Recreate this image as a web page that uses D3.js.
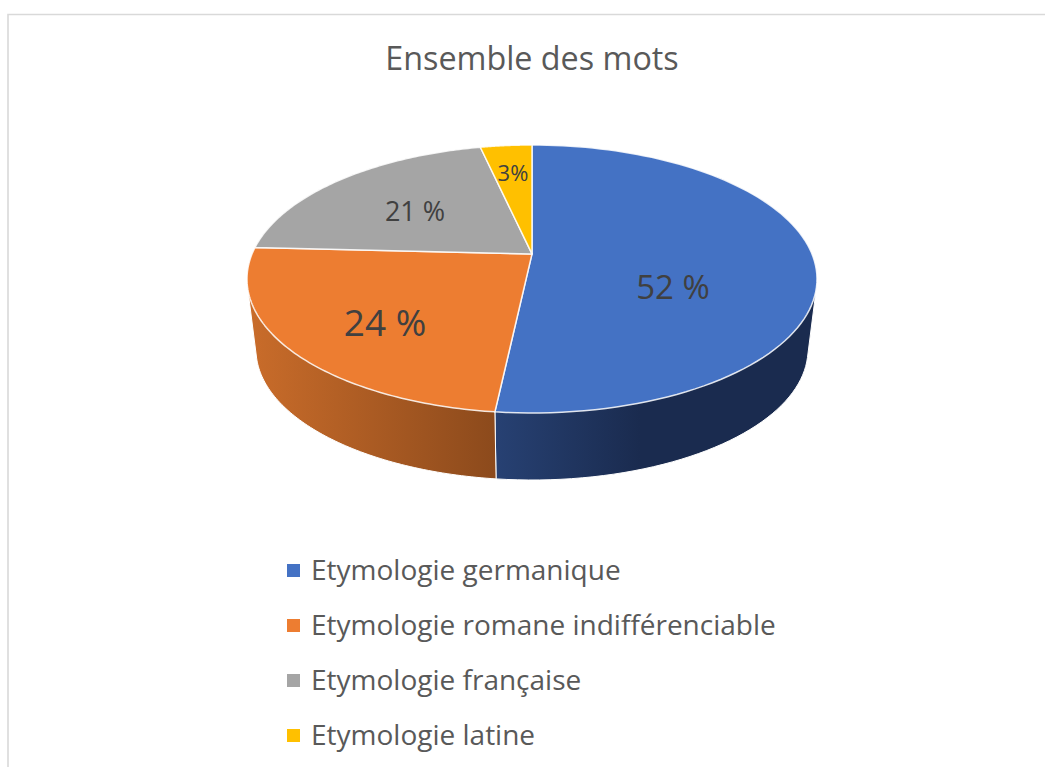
<!DOCTYPE html>
<html>
<head>
<meta charset="utf-8">
<script src="https://cdn.jsdelivr.net/npm/d3@7"></script>
<style>
  html, body { margin: 0; padding: 0; background: #fff; }
  svg { display: block; }
  text { font-family: "Open Sans", sans-serif; }
</style>
</head>
<body>
<svg width="1045" height="767"></svg>
<script>
const title = "Ensemble des mots"
const categories = ["Etymologie germanique", "Etymologie romane indifférenciable", "Etymologie française", "Etymologie latine"]
const values = [51.72, 24.08, 20.7, 3.5]
const valueLabels = ["52 %", "24 %", "21 %", "3%"]
const colors = ["#4472c4", "#ed7d31", "#a5a5a5", "#ffc000"]
const wallLeft = ["#274173", "#c96c2a", "#6b6b6b", "#a67c00"]
const wallRight = ["#1a2b4f", "#8c4a1c", "#5a5a5a", "#8f6c00"]

// layout
const topFace = { cx: 532, cy: 279, rx: 285, ry: 134 }
const baseFace = { cx: 532, cy: 349.5, rx: 276, ry: 130.5 }
const k = -0.187 // moves the pie centre up the ellipse, fakes the perspective
const labelPos = [[673, 287], [385, 323], [415, 211], [513, 173]]
const labelSize = [33, 37, 27, 22]

const svg = d3.select("svg")

// light frame
svg.append("path")
  .attr("d", "M8,767V14.5H1045")
  .attr("fill", "none")
  .attr("stroke", "#d9d9d9")
  .attr("stroke-width", 1.6)

svg.append("text")
  .attr("x", 532).attr("y", 70)
  .attr("text-anchor", "middle")
  .attr("font-size", 32.3)
  .attr("fill", "#595959")
  .text(title)

const defs = svg.append("defs")
values.forEach((v, i) => {
  let g = defs.append("linearGradient")
    .attr("id", "wall" + i)
    .attr("gradientUnits", "userSpaceOnUse")
    .attr("x1", i == 0 ? 495 : 250).attr("x2", i == 0 ? 640 : 495)
    .attr("y1", 0).attr("y2", 0)
  g.append("stop").attr("offset", 0).attr("stop-color", wallLeft[i])
  g.append("stop").attr("offset", 1).attr("stop-color", wallRight[i])
})

function project(a, r, e) {
  let u = r * Math.sin(a), v = -r * Math.cos(a)
  let d = 1 + k * v
  return [e.cx + e.rx * u * Math.sqrt(1 - k * k) / d, e.cy + e.ry * (v + k) / d]
}

const arcs = d3.pie().sort(null).value(d => d)(values)

function samples(d) {
  return d3.range(0, 101).map(t => d.startAngle + (d.endAngle - d.startAngle) * t / 100)
}

const line = d3.line()

// walls first, the top face covers whatever is behind it
// hull gives the straight tangent edge between the two ellipses
svg.append("g").selectAll("path")
  .data(arcs)
  .join("path")
  .attr("d", d => {
    let a = samples(d)
    return line(d3.polygonHull(a.map(t => project(t, 1, topFace)).concat(a.map(t => project(t, 1, baseFace))))) + "Z"
  })
  .attr("fill", (d, i) => `url(#wall${i})`)
  .attr("stroke", "#fff")
  .attr("stroke-width", 1)

svg.append("g").selectAll("path")
  .data(arcs)
  .join("path")
  .attr("d", d => line([project(0, 0, topFace)].concat(samples(d).map(t => project(t, 1, topFace)))) + "Z")
  .attr("fill", (d, i) => colors[i])
  .attr("stroke", "#fff")
  .attr("stroke-opacity", 0.85)
  .attr("stroke-width", 1.5)
  .attr("stroke-linejoin", "round")

svg.append("g").selectAll("text")
  .data(valueLabels)
  .join("text")
  .attr("x", (d, i) => labelPos[i][0])
  .attr("y", (d, i) => labelPos[i][1])
  .attr("dy", "0.36em")
  .attr("text-anchor", "middle")
  .attr("font-size", (d, i) => labelSize[i])
  .attr("fill", "#404040")
  .text(d => d)

const legendY = d3.scalePoint().domain(categories).range([570, 735])

const legend = svg.append("g").selectAll("g")
  .data(categories)
  .join("g")
  .attr("transform", d => `translate(0,${legendY(d)})`)

legend.append("rect")
  .attr("x", 287).attr("y", -6)
  .attr("width", 13).attr("height", 13)
  .attr("fill", (d, i) => colors[i])

legend.append("text")
  .attr("x", 311).attr("y", 10)
  .attr("font-size", 28)
  .attr("fill", "#595959")
  .text(d => d)
</script>
</body>
</html>
